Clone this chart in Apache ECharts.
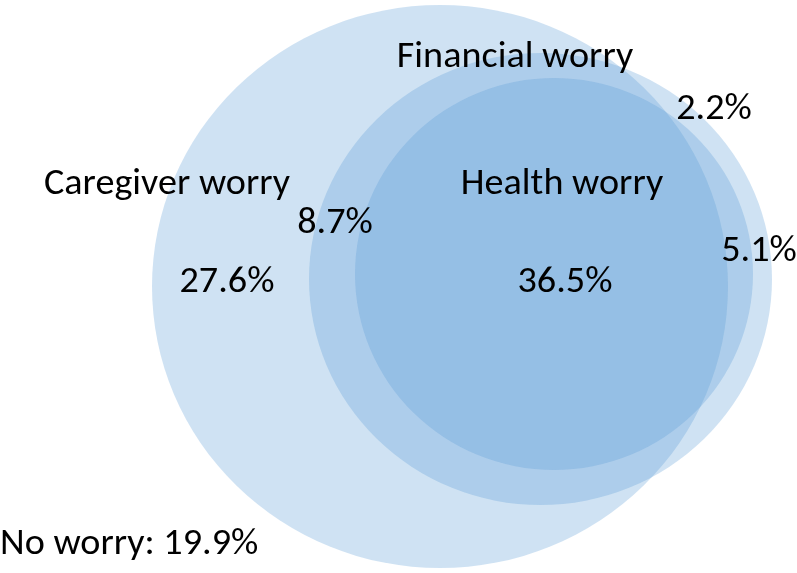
<!DOCTYPE html>
<html><head><meta charset="utf-8">
<script src="https://cdn.jsdelivr.net/npm/echarts@6/dist/echarts.min.js"></script>
<style>html,body{margin:0;padding:0;background:#fff}#c{width:797px;height:573px}</style>
</head><body><div id="c"></div>
<script>
// Venn layout (layout units, mapped through the axes)
const setNames = ['Caregiver worry', 'Financial worry', 'Health worry'];
const setCx = [440, 540.5, 554];
const setCy = [286.5, 279, 274];
const setRx = [288, 231.5, 199];
const setRy = [281.5, 226, 196];
const setLabelX = [167, 515, 562];
const setLabelY = [185, 58, 185];

// Region shares (%)
const regionNames = ['Caregiver only', 'Caregiver & financial', 'All three', 'Financial only', 'Financial & health', 'No worry'];
const regionValues = [27.6, 8.7, 36.5, 2.2, 5.1, 19.9];
const regionX = [227, 335, 565, 714, 759, 0];
const regionY = [283, 224, 283, 110, 252, 545];

const FONT = 'Carlito, Lato, sans-serif';
const FONT_SIZE = 36;
const SCALE_X = 1.06;
const circleData = setNames.map((n, i) => [setCx[i], setCy[i], setRx[i], setRy[i], n]);
const setLabelData = setNames.map((n, i) => [setLabelX[i], setLabelY[i], n]);
const regionData = regionNames.map((n, i) => [regionX[i], regionY[i], regionValues[i], n]);

function textEl(api, x, y, txt, align) {
  const c = api.coord([x, y]);
  return {
    type: 'text',
    x: c[0], y: c[1],
    scaleX: SCALE_X,
    style: {x: 0, y: 0, text: txt, fill: '#000', font: FONT_SIZE + 'px ' + FONT, align: align, verticalAlign: 'middle'}
  };
}

const chart = echarts.init(document.getElementById('c'), null, {renderer: 'canvas'});
chart.setOption({
  animation: false,
  grid: {left: 0, right: 0, top: 0, bottom: 0},
  xAxis: {type: 'value', min: 0, max: 797, show: false},
  yAxis: {type: 'value', min: 0, max: 573, inverse: true, show: false},
  series: [
    {
      type: 'custom',
      data: circleData,
      renderItem: function (params, api) {
        const c = api.coord([api.value(0), api.value(1)]);
        const s = api.size([api.value(2), api.value(3)]);
        return {
          type: 'circle',
          x: c[0], y: c[1],
          scaleY: s[1] / s[0],
          shape: {cx: 0, cy: 0, r: s[0]},
          style: {fill: 'rgba(91,155,213,0.29)'}
        };
      }
    },
    {
      type: 'custom',
      data: setLabelData,
      renderItem: function (params, api) {
        const d = setLabelData[params.dataIndex];
        return textEl(api, d[0], d[1], d[2], 'center');
      }
    },
    {
      type: 'custom',
      data: regionData,
      renderItem: function (params, api) {
        const d = regionData[params.dataIndex];
        const last = d[3] === 'No worry';
        const txt = (last ? 'No worry: ' : '') + d[2].toFixed(1) + '%';
        return textEl(api, d[0], d[1], txt, last ? 'left' : 'center');
      }
    }
  ]
});
</script></body></html>
